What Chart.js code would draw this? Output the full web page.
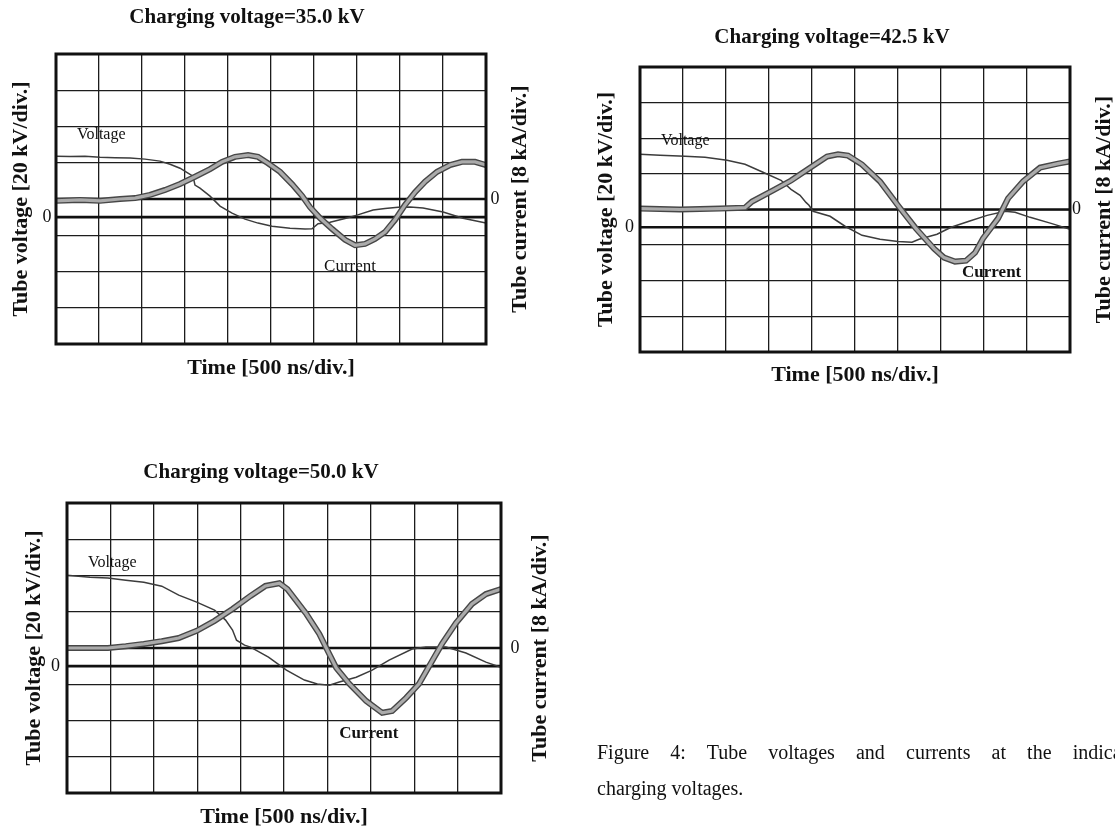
<!DOCTYPE html>
<html><head><meta charset="utf-8">
<script src="https://cdn.jsdelivr.net/npm/chart.js@4.4.1/dist/chart.umd.min.js"></script>
<style>
html,body{margin:0;padding:0;width:1115px;height:832px;overflow:hidden;background:#fff;}
canvas{position:absolute;left:0;top:0;}
.cap{position:absolute;font-family:'Liberation Serif','Times New Roman',serif;font-size:20px;line-height:36px;color:#111;}
#cap1{left:597px;top:734px;width:549px;text-align:justify;text-align-last:justify;}
#cap2{left:597px;top:770px;white-space:nowrap;}
</style></head><body>
<canvas id="c1" width="1115" height="832"></canvas>
<canvas id="c2" width="1115" height="832"></canvas>
<canvas id="c3" width="1115" height="832"></canvas>
<div class="cap" id="cap1">Figure 4: Tube voltages and currents at the indicated</div>
<div class="cap" id="cap2">charging voltages.</div>
<script>
// ---- Axis tick values (time in ns, voltage in kV, current in kA) ----
const timeTicks = [0, 500, 1000, 1500, 2000, 2500, 3000, 3500, 4000, 4500, 5000];
const voltRange = [-70, 90];     // 20 kV/div, zero half a division below centre
const currRange = [-32, 32];     // 8 kA/div, zero at centre
const currStep = 8;

// ---- Panel titles and axis titles ----
const panelTitles = ['Charging voltage=35.0 kV', 'Charging voltage=42.5 kV', 'Charging voltage=50.0 kV'];
const xTitle = 'Time [500 ns/div.]';
const vTitle = 'Tube voltage [20 kV/div.]';
const iTitle = 'Tube current [8 kA/div.]';

// ---- Panel 1 : 35.0 kV ----
const p1VoltT = [0, 163, 337, 512, 686, 861, 1035, 1209, 1326, 1442, 1535, 1593, 1616, 1674, 1791, 1907, 2047, 2198, 2349, 2512, 2721, 2896, 2977, 3047, 3187, 3361, 3500, 3687, 3826, 3977, 4117, 4268, 4501, 4733, 4873, 5000];
const p1VoltV = [33.6, 33.4, 33.6, 33.1, 32.8, 32.6, 32.0, 30.9, 29.2, 27.0, 24.3, 22.6, 17.7, 16.0, 11.6, 6.1, 2.2, -1.1, -3.3, -5.0, -6.1, -6.6, -6.4, -3.6, -2.8, -0.8, 1.1, 3.9, 4.8, 5.5, 5.6, 5.0, 2.8, -0.6, -2.0, -3.3];
const p1CurT = [0, 279, 512, 744, 919, 1093, 1268, 1442, 1616, 1791, 1930, 2081, 2233, 2349, 2465, 2605, 2744, 2861, 2954, 3070, 3210, 3361, 3477, 3593, 3710, 3826, 3942, 4059, 4175, 4291, 4431, 4582, 4721, 4872, 5000];
const p1CurI = [-0.4, -0.2, -0.4, 0, 0.2, 0.9, 2.0, 3.3, 4.9, 6.6, 8.2, 9.3, 9.7, 9.3, 7.9, 6.0, 3.3, 0.7, -1.8, -4.2, -6.6, -9.0, -10.2, -9.9, -8.8, -7.3, -4.6, -1.3, 1.5, 3.8, 6.0, 7.5, 8.2, 8.2, 7.5];

// ---- Panel 2 : 42.5 kV ----
const p2VoltT = [0, 233, 523, 756, 1012, 1221, 1430, 1640, 1756, 1861, 1930, 1965, 2012, 2210, 2384, 2582, 2791, 3000, 3163, 3245, 3454, 3617, 3826, 4036, 4245, 4361, 4536, 4780, 5000];
const p2VoltV = [41.0, 40.4, 39.9, 39.3, 37.6, 35.4, 30.9, 26.4, 21.3, 18.0, 14.0, 12.4, 9.0, 6.2, 0.6, -4.5, -6.7, -7.9, -8.4, -6.7, -3.9, 0.0, 3.4, 6.7, 9.0, 8.4, 5.6, 2.2, -1.1];
const p2CurT = [0, 465, 930, 1221, 1303, 1547, 1756, 1965, 2175, 2303, 2419, 2582, 2791, 3000, 3210, 3419, 3535, 3663, 3791, 3896, 3989, 4164, 4280, 4454, 4652, 4861, 5000];
const p2CurI = [0.2, 0.0, 0.2, 0.4, 1.8, 4.3, 6.5, 9.2, 11.9, 12.4, 12.1, 10.1, 6.3, 0.9, -4.3, -8.8, -10.8, -11.7, -11.5, -9.7, -6.5, -2.0, 2.5, 6.3, 9.4, 10.3, 10.8];

// ---- Panel 3 : 50.0 kV ----
const p3VoltT = [0, 264, 471, 678, 885, 1092, 1287, 1494, 1700, 1827, 1907, 1953, 2045, 2114, 2321, 2528, 2735, 2884, 3022, 3137, 3332, 3516, 3711, 3976, 4136, 4366, 4596, 4826, 5000];
const p3VoltV = [50.2, 49.1, 48.6, 47.4, 46.3, 44.1, 39.2, 35.3, 30.9, 25.4, 19.9, 14.3, 11.6, 10.5, 5.0, -2.2, -7.7, -9.9, -10.5, -8.8, -6.1, -2.2, 3.3, 9.4, 10.5, 10.5, 7.2, 2.2, -0.6];
const p3CurT = [0, 264, 471, 678, 885, 1092, 1287, 1494, 1700, 1907, 2114, 2286, 2447, 2539, 2758, 2907, 2987, 3102, 3252, 3447, 3631, 3746, 3907, 4056, 4205, 4320, 4481, 4665, 4826, 5000];
const p3CurI = [0, 0, 0, 0.4, 0.9, 1.5, 2.2, 3.8, 6.0, 8.6, 11.5, 13.7, 14.3, 13.0, 7.5, 3.1, 0, -4.4, -7.9, -11.7, -14.3, -13.9, -11.0, -7.9, -2.9, 0.9, 5.5, 9.7, 11.9, 13.0];

// ---- Baselines (channel zero traces) ----
const baseT = [0, 5000];
const baseV = [0, 0];

const FONT = "'Liberation Serif', 'Times New Roman', serif";
Chart.defaults.color = '#111';
Chart.defaults.font.family = FONT;

function pts(xs, ys) { return xs.map((x, i) => ({x: x, y: ys[i]})); }

// Frame, in-plot trace labels and the right-hand axis title (reads bottom-to-top)
const frameAndLabels = {
  id: 'frameAndLabels',
  afterDatasetsDraw(chart, args, opts) {
    const {ctx, chartArea: a, scales} = chart;
    ctx.save();
    ctx.strokeStyle = '#111';
    ctx.lineWidth = 3;
    ctx.strokeRect(a.left, a.top, a.right - a.left, a.bottom - a.top);
    ctx.fillStyle = '#111';
    ctx.textBaseline = 'middle';
    ctx.textAlign = 'left';
    for (const l of (opts.labels || [])) {
      ctx.font = l.font;
      ctx.fillText(l.text, scales.x.getPixelForValue(l.t), scales.yV.getPixelForValue(l.v));
    }
    if (opts.rightTitle) {
      ctx.font = 'bold 22px ' + FONT;
      ctx.textAlign = 'center';
      ctx.translate(a.right + opts.rightOffset, (a.top + a.bottom) / 2);
      ctx.rotate(-Math.PI / 2);
      ctx.fillText(opts.rightTitle, 0, 0);
    }
    ctx.restore();
  }
};

function makePanel(id, L) {
  const datasets = [
    {data: pts(L.curT, L.curI), yAxisID: 'yI', borderColor: '#ababab', borderWidth: 3.2, order: 0},
    {data: pts(L.curT, L.curI), yAxisID: 'yI', borderColor: '#474747', borderWidth: 6, order: 1},
    {data: pts(L.voltT, L.voltV), yAxisID: 'yV', borderColor: '#3c3c3c', borderWidth: 1.5, order: 2},
    {data: pts(baseT, baseV), yAxisID: 'yV', borderColor: '#111', borderWidth: 2.6, order: 3},
    {data: pts(baseT, baseV), yAxisID: 'yI', borderColor: '#111', borderWidth: 2.6, order: 4}
  ];
  datasets.forEach(d => { d.pointRadius = 0; d.tension = 0; d.fill = false; });
  return new Chart(document.getElementById(id), {
    type: 'line',
    data: {datasets},
    plugins: [frameAndLabels],
    options: {
      responsive: false, animation: false, devicePixelRatio: 1,
      layout: {padding: L.pad},
      plugins: {
        legend: {display: false}, tooltip: {enabled: false},
        title: {display: true, text: L.title, color: '#111',
                font: {family: FONT, size: 21, weight: 'bold', lineHeight: 1.2},
                padding: L.titlePad},
        frameAndLabels: {labels: L.labels, rightTitle: iTitle, rightOffset: L.rightOffset}
      },
      scales: {
        x: {type: 'linear', min: timeTicks[0], max: timeTicks[timeTicks.length - 1],
            afterBuildTicks: s => { s.ticks = timeTicks.map(v => ({value: v})); },
            ticks: {display: false},
            grid: {color: '#1c1c1c', lineWidth: 1.3, drawTicks: false},
            border: {display: false},
            title: {display: true, text: xTitle, color: '#111',
                    font: {family: FONT, size: 22, weight: 'bold', lineHeight: 1.2},
                    padding: L.xPad}},
        yV: {type: 'linear', position: 'left', min: voltRange[0], max: voltRange[1],
             afterBuildTicks: s => { s.ticks = [{value: 0}]; },
             ticks: {padding: L.vTick, font: {family: FONT, size: 18}, color: '#111'},
             grid: {display: false, drawTicks: false},
             border: {display: false},
             title: {display: true, text: vTitle, color: '#111',
                     font: {family: FONT, size: 22, weight: 'bold', lineHeight: 1.2},
                     padding: L.vPad}},
        yI: {type: 'linear', position: 'right', min: currRange[0], max: currRange[1],
             ticks: {stepSize: currStep, padding: L.iTick, autoSkip: false,
                     font: {family: FONT, size: 18}, color: '#111',
                     callback: v => (v === 0 ? '0' : '')},
             grid: {color: '#1c1c1c', lineWidth: 1.3, drawTicks: false},
             border: {display: false},
             title: {display: false}}
      }
    }
  });
}

makePanel('c1', {
  title: panelTitles[0], voltT: p1VoltT, voltV: p1VoltV, curT: p1CurT, curI: p1CurI,
  pad: {left: -10, right: 611, top: 0, bottom: 450.8},
  titlePad: {top: 5.4, bottom: 23.4},
  vPad: {top: 17.8, bottom: 3.8}, vTick: 4.5,
  iTick: 4.5, rightOffset: 34,
  xPad: {top: 10.8, bottom: 0},
  labels: [
    {text: 'Voltage', t: 244, v: 45.2, font: "16px " + FONT},
    {text: 'Current', t: 3117, v: -27, font: "17px " + FONT}
  ]
});
makePanel('c2', {
  title: panelTitles[1], voltT: p2VoltT, voltV: p2VoltV, curT: p2CurT, curI: p2CurI,
  pad: {left: 581, right: 32, top: 0, bottom: 443.8},
  titlePad: {top: 25.4, bottom: 16.4},
  vPad: {top: 11.8, bottom: -0.2}, vTick: 6,
  iTick: 2, rightOffset: 34,
  xPad: {top: 9.8, bottom: 0},
  labels: [
    {text: 'Voltage', t: 244, v: 48.3, font: "16px " + FONT},
    {text: 'Current', t: 3745, v: -25.3, font: "bold 17px " + FONT}
  ]
});
makePanel('c3', {
  title: panelTitles[2], voltT: p3VoltT, voltV: p3VoltV, curT: p3CurT, curI: p3CurI,
  pad: {left: -7, right: 586, top: 440, bottom: 1.8},
  titlePad: {top: 20.4, bottom: 17.4},
  vPad: {top: 27.8, bottom: -3.2}, vTick: 7,
  iTick: 9.5, rightOffset: 39,
  xPad: {top: 10.8, bottom: 0},
  labels: [
    {text: 'Voltage', t: 241, v: 56.8, font: "16px " + FONT},
    {text: 'Current', t: 3137, v: -37, font: "bold 17px " + FONT}
  ]
});
</script>
</body></html>
